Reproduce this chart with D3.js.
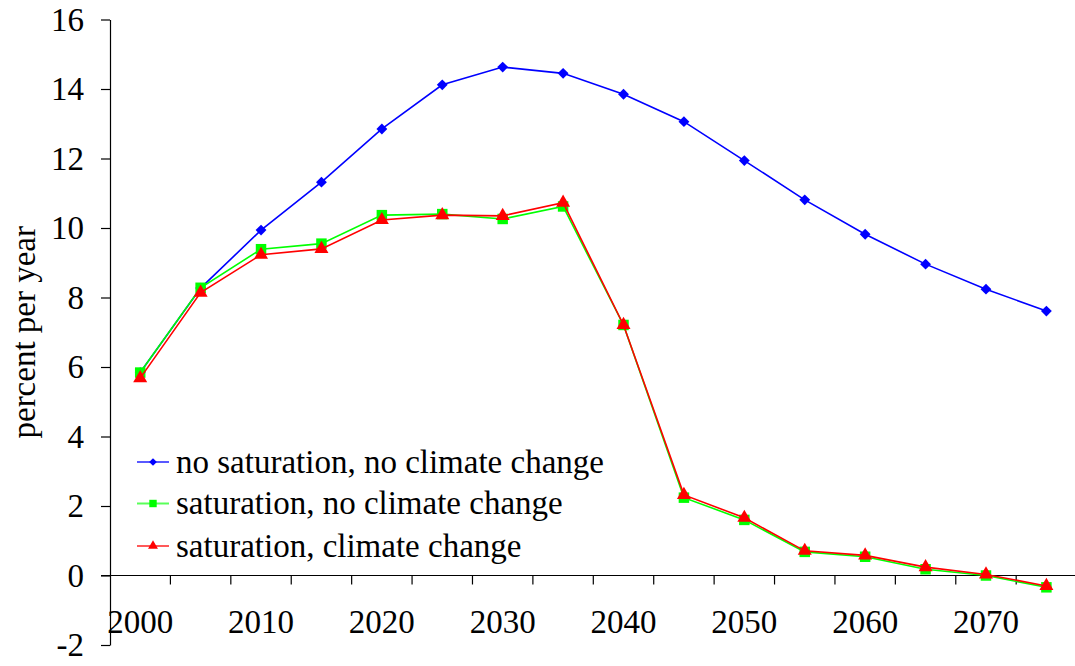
<!DOCTYPE html>
<html>
<head>
<meta charset="utf-8">
<script src="https://cdn.jsdelivr.net/npm/d3@7"></script>
<style>
  html, body { margin: 0; padding: 0; background: #fff; }
  svg { display: block; }
  text { font-family: "Liberation Serif", "Times New Roman", serif; fill: #000; }
</style>
</head>
<body>
<svg id="chart" width="1075" height="666"></svg>
<script>
// Years on the horizontal axis (one category per 5-year step)
const years = [2000, 2005, 2010, 2015, 2020, 2025, 2030, 2035, 2040, 2045, 2050, 2055, 2060, 2065, 2070, 2075];
// Years that carry a tick label
const labelYears = [2000, 2010, 2020, 2030, 2040, 2050, 2060, 2070];
// Vertical tick values
const yTicks = [-2, 0, 2, 4, 6, 8, 10, 12, 14, 16];

// Growth rate, percent per year
const noSatNoClimate = [5.84, 8.27, 9.94, 11.32, 12.85, 14.12, 14.63, 14.45, 13.85, 13.06, 11.94, 10.81, 9.82, 8.96, 8.24, 7.61];
const satNoClimate   = [5.84, 8.28, 9.39, 9.55, 10.37, 10.40, 10.26, 10.62, 7.21, 2.24, 1.60, 0.68, 0.54, 0.18, 0.00, -0.34];
const satClimate     = [5.68, 8.14, 9.23, 9.40, 10.23, 10.37, 10.35, 10.73, 7.21, 2.32, 1.66, 0.71, 0.58, 0.24, 0.03, -0.30];

const seriesNames = ["no saturation, no climate change", "saturation, no climate change", "saturation, climate change"];

const series = [
  { name: seriesNames[0], values: noSatNoClimate, color: "#0000ff", symbol: d3.symbolDiamond2, size: 75 },
  { name: seriesNames[1], values: satNoClimate,   color: "#00ff00", symbol: d3.symbolSquare,   size: 110 },
  { name: seriesNames[2], values: satClimate,     color: "#ff0000", symbol: d3.symbolTriangle, size: 85 }
];

const FONT = "33px";
const svg = d3.select("#chart");
const plotLeft = 110, plotRight = 1076.6, plotTop = 19.5, plotBottom = 645;

const x = d3.scaleBand().domain(years).range([plotLeft, plotRight]).padding(0);
const y = d3.scaleLinear().domain([-2, 16]).range([plotBottom, plotTop]);
const cx = d => x(d) + x.bandwidth() / 2;

// Vertical axis (plain hyphen for negatives)
const yAxis = svg.append("g")
  .attr("transform", `translate(${plotLeft},0)`)
  .call(d3.axisLeft(y).tickValues(yTicks).tickFormat(d => String(d))
    .tickSize(9).tickSizeOuter(0).tickPadding(17));
yAxis.select(".domain").attr("stroke", "#000").attr("stroke-width", 1.2);
yAxis.selectAll(".tick line").attr("stroke", "#000").attr("stroke-width", 1.2);
yAxis.selectAll(".tick text")
  .style("font-family", '"Liberation Serif", "Times New Roman", serif')
  .style("font-size", FONT)
  .attr("fill", "#000");

// Horizontal axis sits on the zero line
const y0 = y(0);
svg.append("line")
  .attr("x1", plotLeft - 9).attr("x2", plotRight)
  .attr("y1", y0).attr("y2", y0)
  .attr("stroke", "#000").attr("stroke-width", 1.2);

// Tick marks at category boundaries
svg.append("g").selectAll("line")
  .data(years)
  .join("line")
  .attr("x1", d => x(d) + x.bandwidth())
  .attr("x2", d => x(d) + x.bandwidth())
  .attr("y1", y0).attr("y2", y0 + 9)
  .attr("stroke", "#000").attr("stroke-width", 1.2);

// Year labels at category centres
svg.append("g").selectAll("text")
  .data(labelYears)
  .join("text")
  .attr("x", d => cx(d))
  .attr("y", 633)
  .attr("text-anchor", "middle")
  .style("font-size", FONT)
  .text(d => d);

// Vertical axis title
svg.append("text")
  .attr("transform", `translate(35,${(plotTop + plotBottom) / 2}) rotate(-90)`)
  .attr("text-anchor", "middle")
  .style("font-size", FONT)
  .text("percent per year");

// Series lines and markers
const line = d3.line()
  .x((d, i) => cx(years[i]))
  .y(d => y(d));

series.forEach(s => {
  const g = svg.append("g");
  g.append("path")
    .datum(s.values)
    .attr("d", line)
    .attr("fill", "none")
    .attr("stroke", s.color)
    .attr("stroke-width", 1.6);
  g.selectAll("path.mark")
    .data(s.values)
    .join("path")
    .attr("class", "mark")
    .attr("transform", (d, i) => `translate(${cx(years[i])},${y(d)})`)
    .attr("d", d3.symbol().type(s.symbol).size(s.size))
    .attr("fill", s.color);
});

// Legend
const legendRows = [462, 503.5, 546];
const legend = svg.append("g");
series.forEach((s, i) => {
  const ly = legendRows[i];
  legend.append("line")
    .attr("x1", 137).attr("x2", 169)
    .attr("y1", ly).attr("y2", ly)
    .attr("stroke", s.color).attr("stroke-width", 2).attr("stroke-opacity", 0.65);
  legend.append("path")
    .attr("transform", `translate(153,${ly})`)
    .attr("d", d3.symbol().type(s.symbol).size(s.size * 0.5))
    .attr("fill", s.color);
  legend.append("text")
    .attr("x", 176).attr("y", ly)
    .attr("dy", "0.33em")
    .style("font-size", FONT)
    .text(s.name);
});
</script>
</body>
</html>
